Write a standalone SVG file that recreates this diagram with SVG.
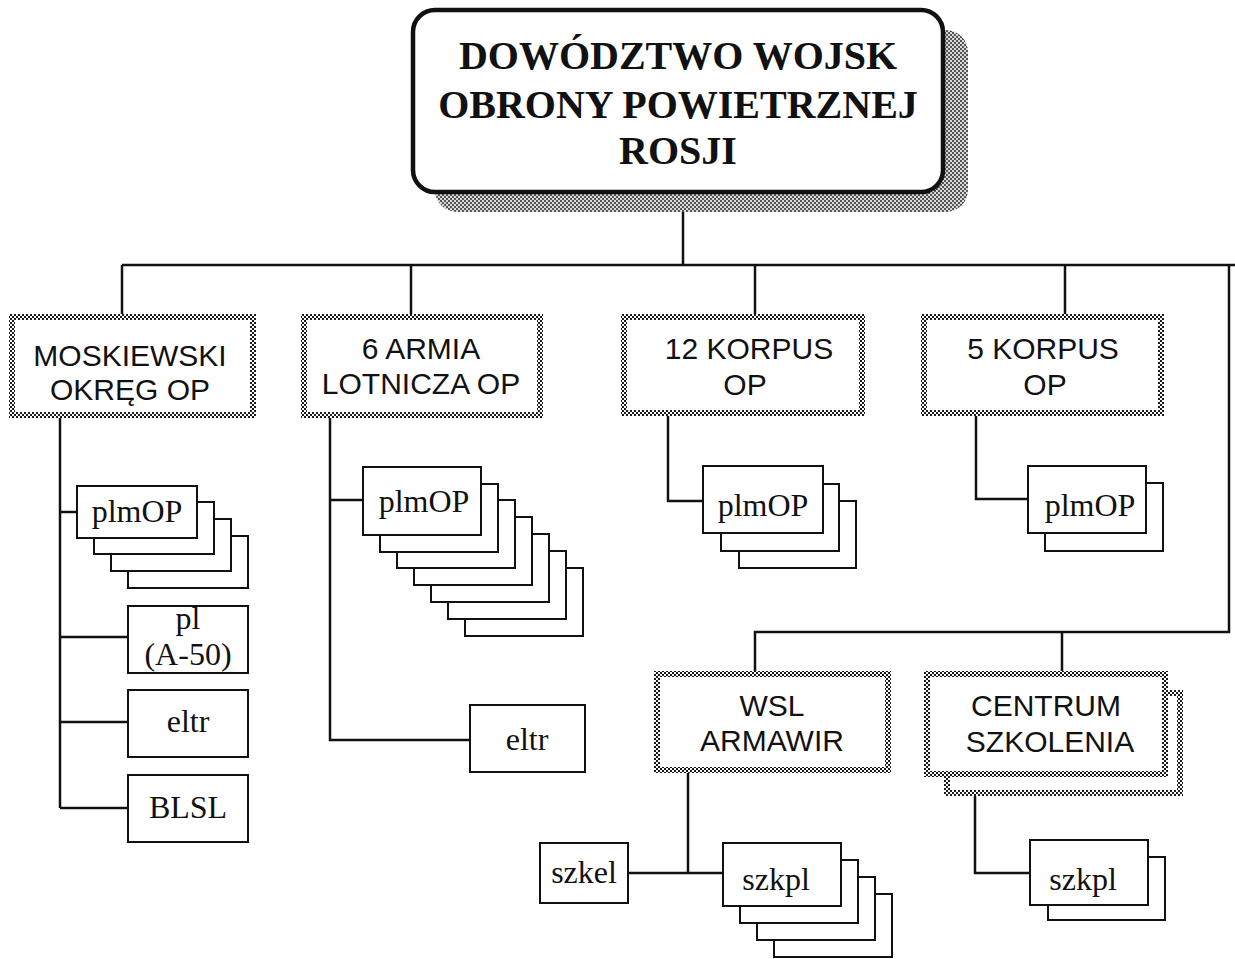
<svg xmlns="http://www.w3.org/2000/svg" width="1235" height="959" viewBox="0 0 1235 959">
<defs>
<pattern id="chk" width="4" height="4" patternUnits="userSpaceOnUse"><rect width="4" height="4" fill="#fff"/><rect width="2" height="2" fill="#1a1a1a"/><rect x="2" y="2" width="2" height="2" fill="#1a1a1a"/></pattern>
<pattern id="shd" width="4" height="4" patternUnits="userSpaceOnUse"><rect width="4" height="4" fill="#d8d8d8"/><rect width="2" height="2" fill="#555"/><rect x="2" y="2" width="2" height="2" fill="#555"/></pattern>
</defs>
<style>
.ln{stroke:#111;stroke-width:2.5;fill:none}
.bx{fill:#fff;stroke:#111;stroke-width:2}
.cb{fill:#fff;stroke:url(#chk);stroke-width:6}
.tt{font-family:"Liberation Serif",serif;font-weight:bold;font-size:40px;fill:#111;text-anchor:middle}
.ts{font-family:"Liberation Sans",Arial,sans-serif;font-size:30px;fill:#111;text-anchor:middle}
.tr{font-family:"Liberation Serif",serif;font-size:32px;fill:#111;text-anchor:middle}
</style>
<rect width="1235" height="959" fill="#fff"/>
<g id="connectors">
<path class="ln" d="M683 192V265M122 265H1235M122 265V315M411 265V315M755 265V315M1065 265V315M1229 265V632H755V672M1062 632V672"/>
<path class="ln" d="M60 417V808M60 512H77M60 637H128M60 722H128M60 808H128"/>
<path class="ln" d="M330 417V740H470M330 500H363"/>
<path class="ln" d="M668 415V501H703"/>
<path class="ln" d="M976 415V499H1028"/>
<path class="ln" d="M688 772V873M628 873H723"/>
<path class="ln" d="M975 795V873H1030"/>
</g>
<g id="root">
<rect x="435" y="30" width="533" height="182" rx="22" fill="url(#shd)"/>
<rect x="413" y="10" width="530" height="182" rx="22" fill="#fff" stroke="#111" stroke-width="4.5"/>
<text class="tt" x="678" y="69">DOWÓDZTWO WOJSK</text>
<text class="tt" x="678" y="118">OBRONY POWIETRZNEJ</text>
<text class="tt" x="678" y="164">ROSJI</text>
</g>
<g id="moskiewski">
<rect class="cb" x="12" y="317" width="241" height="98"/>
<text class="ts" x="130" y="366">MOSKIEWSKI</text>
<text class="ts" x="130" y="400">OKRĘG OP</text>
</g>
<g id="armia6">
<rect class="cb" x="304" y="317" width="236" height="98"/>
<text class="ts" x="421" y="359">6 ARMIA</text>
<text class="ts" x="421" y="394">LOTNICZA OP</text>
</g>
<g id="korpus12">
<rect class="cb" x="624" y="317" width="238" height="96"/>
<text class="ts" x="749" y="359">12 KORPUS</text>
<text class="ts" x="745" y="395">OP</text>
</g>
<g id="korpus5">
<rect class="cb" x="924" y="317" width="237" height="96"/>
<text class="ts" x="1043" y="359">5 KORPUS</text>
<text class="ts" x="1045" y="395">OP</text>
</g>
<g id="wsl">
<rect class="cb" x="657" y="674" width="231" height="96"/>
<text class="ts" x="772" y="716">WSL</text>
<text class="ts" x="772" y="751">ARMAWIR</text>
</g>
<g id="centrum">
<rect class="cb" x="947" y="693" width="233" height="100"/>
<rect class="cb" x="927" y="674" width="238" height="100"/>
<text class="ts" x="1046" y="716">CENTRUM</text>
<text class="ts" x="1050" y="752">SZKOLENIA</text>
</g>
<g id="mosk-plmop">
<rect class="bx" x="128" y="536" width="120" height="52"/>
<rect class="bx" x="111" y="519" width="120" height="52"/>
<rect class="bx" x="94" y="502" width="120" height="52"/>
<rect class="bx" x="77" y="486" width="120" height="52"/>
<text class="tr" x="137" y="522">plmOP</text>
</g>
<g id="mosk-pl">
<rect class="bx" x="128" y="606" width="120" height="67"/>
<text class="tr" x="188" y="629" font-size="27">pl</text>
<text class="tr" x="188" y="665" font-size="27">(A-50)</text>
</g>
<g id="mosk-eltr">
<rect class="bx" x="128" y="690" width="120" height="67"/>
<text class="tr" x="188" y="732">eltr</text>
</g>
<g id="mosk-blsl">
<rect class="bx" x="128" y="775" width="120" height="67"/>
<text class="tr" x="188" y="818">BLSL</text>
</g>
<g id="armia-plmop">
<rect class="bx" x="465" y="568" width="118" height="68"/>
<rect class="bx" x="448" y="551" width="118" height="68"/>
<rect class="bx" x="431" y="534" width="118" height="68"/>
<rect class="bx" x="414" y="517" width="118" height="68"/>
<rect class="bx" x="397" y="500" width="118" height="68"/>
<rect class="bx" x="380" y="484" width="118" height="68"/>
<rect class="bx" x="363" y="467" width="118" height="68"/>
<text class="tr" x="424" y="512">plmOP</text>
</g>
<g id="armia-eltr">
<rect class="bx" x="470" y="705" width="115" height="67"/>
<text class="tr" x="527" y="750">eltr</text>
</g>
<g id="k12-plmop">
<rect class="bx" x="739" y="501" width="117" height="67"/>
<rect class="bx" x="721" y="484" width="118" height="67"/>
<rect class="bx" x="703" y="466" width="120" height="67"/>
<text class="tr" x="763" y="516">plmOP</text>
</g>
<g id="k5-plmop">
<rect class="bx" x="1045" y="483" width="118" height="68"/>
<rect class="bx" x="1028" y="466" width="118" height="67"/>
<text class="tr" x="1090" y="516">plmOP</text>
</g>
<g id="szkel">
<rect class="bx" x="540" y="843" width="88" height="60"/>
<text class="tr" x="584" y="883">szkel</text>
</g>
<g id="wsl-szkpl">
<rect class="bx" x="774" y="894" width="118" height="63"/>
<rect class="bx" x="757" y="877" width="118" height="63"/>
<rect class="bx" x="740" y="860" width="118" height="63"/>
<rect class="bx" x="723" y="843" width="118" height="63"/>
<text class="tr" x="776" y="890">szkpl</text>
</g>
<g id="c-szkpl">
<rect class="bx" x="1048" y="857" width="117" height="63"/>
<rect class="bx" x="1030" y="840" width="118" height="65"/>
<text class="tr" x="1083" y="890">szkpl</text>
</g>
</svg>
